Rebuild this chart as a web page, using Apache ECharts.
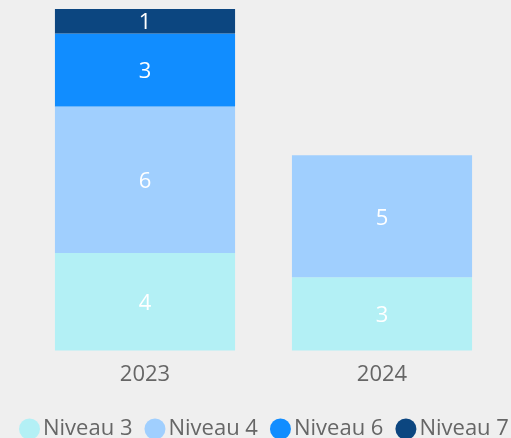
<!DOCTYPE html>
<html>
<head>
<meta charset="utf-8">
<script src="https://cdn.jsdelivr.net/npm/echarts@6/dist/echarts.min.js"></script>
<style>
  html, body { margin: 0; padding: 0; background: #efefef; }
  #chart { width: 511px; height: 438px; }
</style>
</head>
<body>
<div id="chart"></div>
<script>
// data
const years = ['2023', '2024']
const niveau3 = [4, 3]
const niveau4 = [6, 5]
const niveau6 = [3, null]
const niveau7 = [1, null]

const seriesNames = ['Niveau 3', 'Niveau 4', 'Niveau 6', 'Niveau 7']
const seriesData = [niveau3, niveau4, niveau6, niveau7]
const colors = ['#b3f0f5', '#a0cffe', '#118dff', '#0c4680']

const chart = echarts.init(document.getElementById('chart'))
window.onresize = () => chart.resize()

const option = {
  backgroundColor: '#efefef',
  textStyle: { fontFamily: 'Open Sans' },
  grid: {
    top: 9,
    left: 26.5,
    right: 10.5,
    bottom: 87.5
  },
  legend: {
    top: 418,
    left: 19,
    padding: 0,
    icon: 'circle',
    itemWidth: 21,
    itemHeight: 21,
    itemGap: 12,
    textStyle: { color: '#666', fontSize: 22, padding: [0, 0, 0, -2] },
    data: seriesNames
  },
  xAxis: {
    type: 'category',
    data: years,
    axisLine: { show: false },
    axisTick: { show: false },
    axisLabel: { color: '#666', fontSize: 22, margin: 13 }
  },
  yAxis: {
    type: 'value',
    min: 0,
    max: 14,
    show: false,
    splitLine: { show: false }
  },
  series: seriesNames.map((name, i) => ({
    name: name,
    type: 'bar',
    stack: 'total',
    barCategoryGap: '24%',
    itemStyle: { color: colors[i] },
    label: {
      show: true,
      position: 'inside',
      offset: [0, 2],
      color: '#fff',
      fontSize: 22
    },
    data: seriesData[i]
  }))
}
chart.setOption(option)
</script>
</body>
</html>
